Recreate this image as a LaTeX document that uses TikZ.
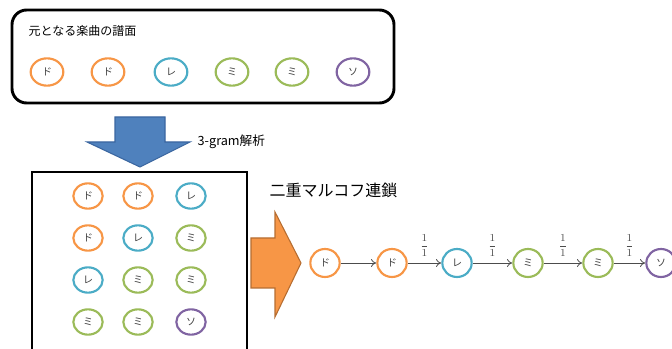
\documentclass[tikz,border=0pt]{standalone}
\usepackage{fontspec}
\newfontfamily\jp{Noto Sans CJK JP}
\usetikzlibrary{shapes.geometric,arrows.meta}
\definecolor{cDo}{HTML}{F79646}
\definecolor{cRe}{HTML}{4BACC6}
\definecolor{cMi}{HTML}{9BBB59}
\definecolor{cSo}{HTML}{8064A2}
\definecolor{blueA}{HTML}{4F81BD}
\definecolor{blueB}{HTML}{3A66A0}
\definecolor{orA}{HTML}{F79646}
\definecolor{orB}{HTML}{B66D31}
\tikzset{
  note/.style={ellipse,draw=#1,line width=1.6pt,fill=white,inner sep=0pt,
    font=\jp\fontsize{7.5}{8}\selectfont,text=black!75},
  topn/.style={note=#1,minimum width=24.5pt,minimum height=20.5pt},
  gridn/.style={note=#1,minimum width=22pt,minimum height=19pt},
  chainn/.style={note=#1,minimum width=22pt,minimum height=21pt},
  edge/.style={draw=black!70,line width=0.6pt,-{To[length=4pt,width=6pt]}},
  frac/.style={above=1pt,font=\fontsize{8}{9}\selectfont,text=black!70},
}
\begin{document}
\begin{tikzpicture}[x=0.75pt,y=-0.75pt]
\useasboundingbox (0,0) rectangle (672,349);
% top box
\draw[line width=2.2pt,rounded corners=11pt] (12,10) rectangle (394,103);
\node[anchor=west,font=\jp\fontsize{9}{10}\selectfont] (title) at (24,31) {元となる楽曲の譜面};
\node[topn=cDo] (t1) at (47,72) {ド};
\node[topn=cDo] (t2) at (108,72) {ド};
\node[topn=cRe] (t3) at (171,72) {レ};
\node[topn=cMi] (t4) at (232,72) {ミ};
\node[topn=cMi] (t5) at (292,72) {ミ};
\node[topn=cSo] (t6) at (353,72) {ソ};
% blue arrow
\draw[fill=blueA,draw=blueB,line width=0.8pt] (115,117) -- (165,117) -- (165,142) -- (190,142) -- (140,167) -- (87,142) -- (115,142) -- cycle;
\node[anchor=west,font=\jp\fontsize{9.5}{10}\selectfont] (gram) at (193,142) {3-gram解析};
% grid box
\draw[line width=2.2pt] (32,360) -- (32,172) -- (247,172) -- (247,360);
\node[gridn=cDo] (g11) at (88,196) {ド};
\node[gridn=cDo] (g12) at (138,196) {ド};
\node[gridn=cRe] (g13) at (191,196) {レ};
\node[gridn=cDo] (g21) at (88,238) {ド};
\node[gridn=cRe] (g22) at (138,238) {レ};
\node[gridn=cMi] (g23) at (191,238) {ミ};
\node[gridn=cRe] (g31) at (88,280) {レ};
\node[gridn=cMi] (g32) at (138,280) {ミ};
\node[gridn=cMi] (g33) at (191,280) {ミ};
\node[gridn=cMi] (g41) at (88,322) {ミ};
\node[gridn=cMi] (g42) at (138,322) {ミ};
\node[gridn=cSo] (g43) at (191,322) {ソ};
% orange arrow
\draw[fill=orA,draw=orB,line width=0.8pt] (251,238) -- (275,238) -- (275,212) -- (301,263) -- (275,317) -- (275,288) -- (251,288) -- cycle;
\node[anchor=west,font=\jp\fontsize{12}{13}\selectfont] (markov) at (265,190) {二重マルコフ連鎖};
% chain
\node[chainn=cDo] (c1) at (325,263) {ド};
\node[chainn=cDo] (c2) at (392,263) {ド};
\node[chainn=cRe] (c3) at (457,263) {レ};
\node[chainn=cMi] (c4) at (528,263) {ミ};
\node[chainn=cMi] (c5) at (598,263) {ミ};
\node[chainn=cSo] (c6) at (661,263) {ソ};
\draw[edge] (c1) -- (c2);
\draw[edge] (c2) -- node[frac] {$\displaystyle\frac{1}{1}$} (c3);
\draw[edge] (c3) -- node[frac] {$\displaystyle\frac{1}{1}$} (c4);
\draw[edge] (c4) -- node[frac] {$\displaystyle\frac{1}{1}$} (c5);
\draw[edge] (c5) -- node[frac] {$\displaystyle\frac{1}{1}$} (c6);
\end{tikzpicture}
\end{document}
